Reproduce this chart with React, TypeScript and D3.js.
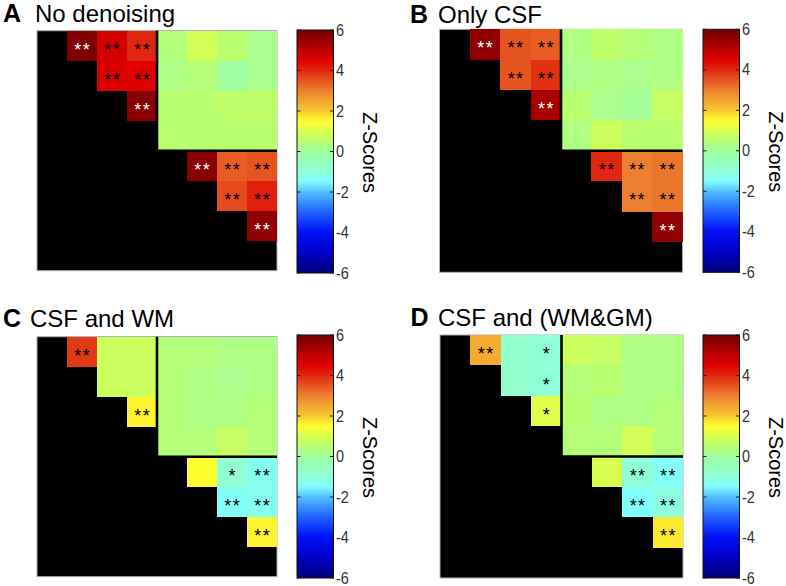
import React from "react";
import * as d3 from "d3";

// ---------- DATA ----------
const panelLetters = ["A", "B", "C", "D"];
const panelTitles = ["No denoising", "Only CSF", "CSF and WM", "CSF and (WM&GM)"];
const nodeIndex = [0, 1, 2, 3, 4, 5, 6, 7];
const tickValues = [6, 4, 2, 0, -2, -4, -6];
const colorbarLabel = "Z-Scores";

const N = null;
const zNoDenoising = [
  [N, 5.8, 4.7, 4.0, 0.4, 0.9, 0.5, 0.2],
  [N, N, 4.6, 4.5, 0.3, 0.4, 0.0, 0.2],
  [N, N, N, 5.7, 0.5, 0.5, 0.6, 0.6],
  [N, N, N, N, 0.5, 0.5, 0.5, 0.5],
  [N, N, N, N, N, 5.7, 3.4, 3.5],
  [N, N, N, N, N, N, 3.6, 4.1],
  [N, N, N, N, N, N, N, 5.6],
  [N, N, N, N, N, N, N, N],
];
const zOnlyCSF = [
  [N, 5.6, 3.5, 3.4, 0.3, 0.6, 0.4, 0.3],
  [N, N, 3.5, 3.9, 0.2, 0.3, 0.2, 0.3],
  [N, N, N, 5.3, 0.5, 0.2, 0.1, 0.7],
  [N, N, N, N, 0.3, 0.8, 0.5, 0.5],
  [N, N, N, N, N, 4.0, 3.0, 3.1],
  [N, N, N, N, N, N, 3.0, 3.1],
  [N, N, N, N, N, N, N, 5.6],
  [N, N, N, N, N, N, N, N],
];
const zCSFandWM = [
  [N, 3.8, 0.8, 0.8, 0.4, 0.4, 0.3, 0.3],
  [N, N, 0.8, 0.8, 0.4, 0.3, 0.2, 0.3],
  [N, N, N, 1.6, 0.4, 0.3, 0.3, 0.4],
  [N, N, N, N, 0.4, 0.4, 0.7, 0.4],
  [N, N, N, N, N, 1.5, -0.9, -1.3],
  [N, N, N, N, N, N, -1.4, -1.3],
  [N, N, N, N, N, N, N, 1.6],
  [N, N, N, N, N, N, N, N],
];
const zCSFandWMGM = [
  [N, 2.4, -0.8, -1.0, 0.8, 0.7, 0.3, 0.3],
  [N, N, -0.8, -1.0, 0.4, 0.5, 0.3, 0.3],
  [N, N, N, 1.1, 0.5, 0.3, 0.3, 0.4],
  [N, N, N, N, 0.4, 0.4, 0.9, 0.4],
  [N, N, N, N, N, 1.0, -1.0, -1.4],
  [N, N, N, N, N, N, -1.5, -1.1],
  [N, N, N, N, N, N, N, 1.7],
  [N, N, N, N, N, N, N, N],
];

const E = "";
const sigNoDenoising = [
  [E, "**", "**", "**", E, E, E, E],
  [E, E, "**", "**", E, E, E, E],
  [E, E, E, "**", E, E, E, E],
  [E, E, E, E, E, E, E, E],
  [E, E, E, E, E, "**", "**", "**"],
  [E, E, E, E, E, E, "**", "**"],
  [E, E, E, E, E, E, E, "**"],
  [E, E, E, E, E, E, E, E],
];
const sigOnlyCSF = [
  [E, "**", "**", "**", E, E, E, E],
  [E, E, "**", "**", E, E, E, E],
  [E, E, E, "**", E, E, E, E],
  [E, E, E, E, E, E, E, E],
  [E, E, E, E, E, "**", "**", "**"],
  [E, E, E, E, E, E, "**", "**"],
  [E, E, E, E, E, E, E, "**"],
  [E, E, E, E, E, E, E, E],
];
const sigCSFandWM = [
  [E, "**", E, E, E, E, E, E],
  [E, E, E, E, E, E, E, E],
  [E, E, E, "**", E, E, E, E],
  [E, E, E, E, E, E, E, E],
  [E, E, E, E, E, E, "*", "**"],
  [E, E, E, E, E, E, "**", "**"],
  [E, E, E, E, E, E, E, "**"],
  [E, E, E, E, E, E, E, E],
];
const sigCSFandWMGM = [
  [E, "**", E, "*", E, E, E, E],
  [E, E, E, "*", E, E, E, E],
  [E, E, E, "*", E, E, E, E],
  [E, E, E, E, E, E, E, E],
  [E, E, E, E, E, E, "**", "**"],
  [E, E, E, E, E, E, "**", "**"],
  [E, E, E, E, E, E, E, "**"],
  [E, E, E, E, E, E, E, E],
];

const panelValues = [zNoDenoising, zOnlyCSF, zCSFandWM, zCSFandWMGM];
const panelSig = [sigNoDenoising, sigOnlyCSF, sigCSFandWM, sigCSFandWMGM];

// colormap (jet-like)
const cmapStops = [-6, -5, -4, -3, -2, -1.5, -1, 0, 0.5, 1, 1.5, 2, 3, 4, 4.5, 5, 6];
const cmapColors = [
  "#00007a", "#0000c8", "#0010f8", "#2060ff", "#50c0ff", "#80ffff", "#90ffd8",
  "#a0ffa0", "#b8ff70", "#d8ff50", "#ffff30", "#f8c830", "#ec8030", "#e02810",
  "#e00000", "#c00000", "#700000",
];

// ---------- LAYOUT ----------
const layouts = [
  { mx: 37, my: 30.7, size: 240, cbx: 297, cby: 30, lx: 3, ly: 22, tx: 35 },
  { mx: 439.5, my: 29.3, size: 243, cbx: 703, cby: 29.3, lx: 410, ly: 22.5, tx: 438 },
  { mx: 37, my: 336.7, size: 240, cbx: 297, cby: 335, lx: 3, ly: 326.5, tx: 30 },
  { mx: 440, my: 335, size: 243, cbx: 703, cby: 335, lx: 410.5, ly: 326, tx: 438 },
];
const CB_W = 36.5;
const CB_H = 243;

const color = d3
  .scaleLinear<string>()
  .domain(cmapStops)
  .range(cmapColors)
  .interpolate(d3.interpolateRgb)
  .clamp(true);

const FONT = "'Liberation Sans', Arial, Helvetica, sans-serif";

function Panel({ idx }: { idx: number }) {
  const L = layouts[idx];
  const vals = panelValues[idx];
  const sig = panelSig[idx];
  const band = d3.scaleBand<number>().domain(nodeIndex).range([L.mx, L.mx + L.size]);
  const rowBand = d3.scaleBand<number>().domain(nodeIndex).range([L.my, L.my + L.size]);
  const bw = band.bandwidth();
  const yCb = d3.scaleLinear().domain([-6, 6]).range([L.cby + CB_H, L.cby]);
  const gradId = `cbgrad${idx}`;
  const gradStops = d3.range(0, 61).map((i) => {
    const v = -6 + (12 * i) / 60;
    return { off: (i / 60) * 100, c: color(v) };
  });
  const sepX = band(4)!;
  const sepY = rowBand(4)!;
  const cells: any[] = [];
  vals.forEach((row, r) =>
    row.forEach((v, c) => {
      if (v === null) return;
      const x0 = Math.round(band(c)!);
      const x1 = Math.round(band(c)! + bw);
      const y0 = Math.round(rowBand(r)!);
      const y1 = Math.round(rowBand(r)! + bw);
      cells.push({ r, c, v, s: sig[r][c], x0, x1, y0, y1 });
    })
  );
  const starSize = 18;
  const spacing = 1.4;
  return (
    <g>
      <text x={L.lx} y={L.ly} fontFamily={FONT} fontWeight="bold" fontSize={25} fill="#000">
        {panelLetters[idx]}
      </text>
      <text x={L.tx} y={L.ly} fontFamily={FONT} fontSize={24} fill="#000">
        {panelTitles[idx]}
      </text>
      <rect x={L.mx} y={L.my} width={L.size} height={L.size} fill="#000" stroke="#b0b0b0" strokeWidth={1} />
      <g shapeRendering="crispEdges">
        {cells.map((d) => (
          <rect
            key={`c${d.r}-${d.c}`}
            x={d.x0}
            y={d.y0}
            width={d.x1 - d.x0}
            height={d.y1 - d.y0}
            fill={color(d.v)}
          />
        ))}
      </g>
      <path
        d={`M${sepX},${L.my} L${sepX},${sepY} L${L.mx + L.size},${sepY}`}
        fill="none"
        stroke="#000"
        strokeWidth={2.6}
      />
      {cells
        .filter((d) => d.s)
        .map((d) => (
          <text
            key={`s${d.r}-${d.c}`}
            x={band(d.c)! + bw / 2 + spacing / 2}
            y={rowBand(d.r)! + bw / 2 + 10}
            textAnchor="middle"
            fontFamily={FONT}
            fontSize={starSize}
            letterSpacing={spacing}
            fill={d.v > 5 ? "#fff" : "#000"}
          >
            {d.s}
          </text>
        ))}
      <defs>
        <linearGradient id={gradId} x1="0" y1="1" x2="0" y2="0">
          {gradStops.map((g, i) => (
            <stop key={i} offset={`${g.off}%`} stopColor={g.c} />
          ))}
        </linearGradient>
      </defs>
      <rect x={L.cbx} y={L.cby} width={CB_W} height={CB_H} fill={`url(#${gradId})`} stroke="#111" strokeWidth={1} />
      {tickValues.map((t) => (
        <g key={t}>
          <line x1={L.cbx} x2={L.cbx + 3.5} y1={yCb(t)} y2={yCb(t)} stroke="#222" strokeWidth={1} />
          <line x1={L.cbx + CB_W - 3.5} x2={L.cbx + CB_W} y1={yCb(t)} y2={yCb(t)} stroke="#222" strokeWidth={1} />
          <text
            transform={`translate(${L.cbx + CB_W + 2.5},${yCb(t) + 5.5}) scale(0.85,1)`}
            fontFamily={FONT}
            fontSize={17}
            fill="#333"
          >
            {t}
          </text>
        </g>
      ))}
      <text
        transform={`translate(${L.cbx + CB_W + 29},${L.cby + CB_H / 2 + 1}) rotate(90)`}
        textAnchor="middle"
        fontFamily={FONT}
        fontSize={20}
        fill="#000"
      >
        {colorbarLabel}
      </text>
    </g>
  );
}

export default function App() {
  return (
    <svg
      width={786}
      height={586}
      style={{ position: "absolute", left: 0, top: 0, background: "#fff" }}
    >
      {[0, 1, 2, 3].map((i) => (
        <Panel key={i} idx={i} />
      ))}
    </svg>
  );
}
